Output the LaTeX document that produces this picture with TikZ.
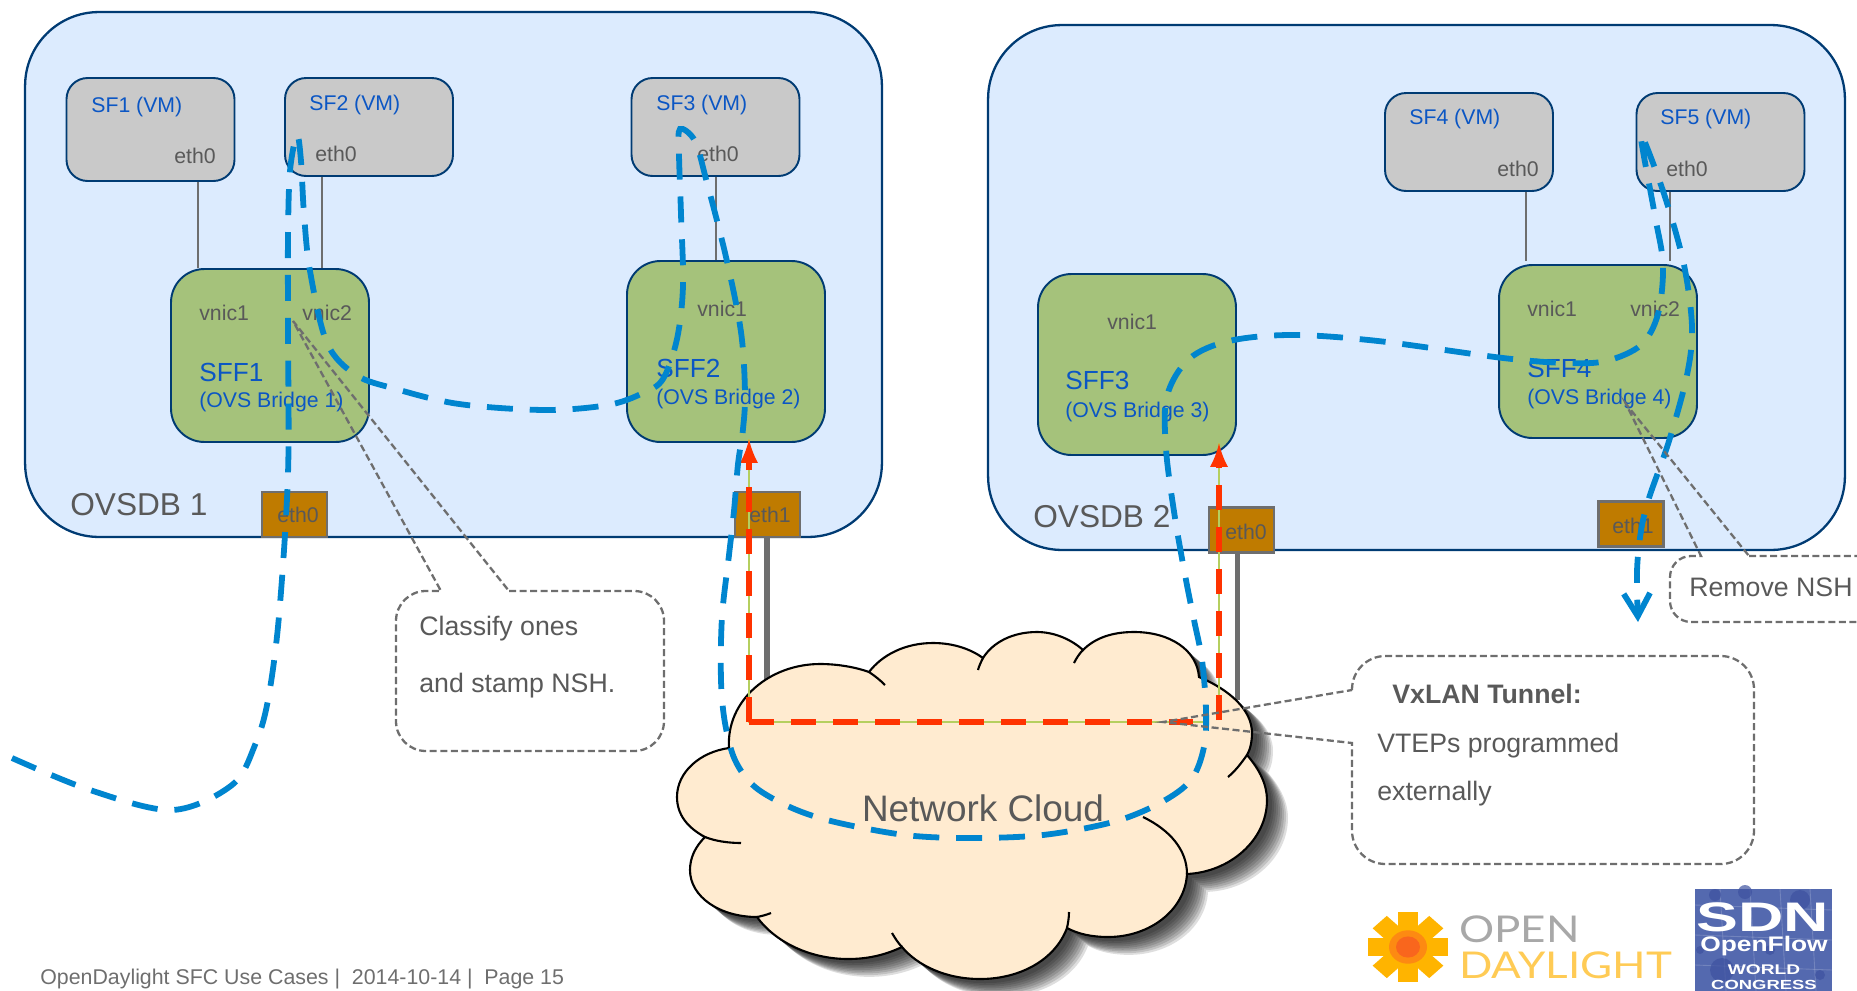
\documentclass[tikz,border=0pt]{standalone}
\usepackage{fontspec}
\usepackage{graphicx}
\setmainfont{Liberation Sans}
\newfontfamily\logofont{Lato}
\usetikzlibrary{arrows.meta}
\definecolor{fondbleu}{HTML}{DCEBFE}
\definecolor{bord}{HTML}{003B73}
\definecolor{gris}{HTML}{C9C9C9}
\definecolor{vert}{HTML}{A5C27B}
\definecolor{brun}{HTML}{BF7B00}
\definecolor{trait}{HTML}{6E6E6E}
\definecolor{texte}{HTML}{595959}
\definecolor{bleutexte}{HTML}{0B56C4}
\definecolor{bleuroute}{HTML}{0085CF}
\definecolor{rouge}{HTML}{FF3300}
\definecolor{olive}{HTML}{B5CF5F}
\definecolor{sable}{HTML}{FFEBD0}
\definecolor{etoile}{HTML}{FFB400}
\definecolor{etoilemid}{HTML}{FD8A12}
\definecolor{etoilecoeur}{HTML}{F9661D}
\definecolor{jour}{HTML}{FFCB55}
\definecolor{ouvert}{HTML}{A8A8A8}
\definecolor{sdnfond}{HTML}{5469AF}
\definecolor{sdnnoeud}{HTML}{3E52A0}
\begin{document}
\begin{tikzpicture}[x=0.02cm,y=-0.02cm]
	\tikzstyle{domaine}=[draw=bord,fill=fondbleu,line width=1.3pt,rounded corners=42pt,minimum width=17.14cm,minimum height=10.5cm,inner sep=0]
	\tikzstyle{fonction}=[draw=bord,fill=gris,line width=1.1pt,rounded corners=12pt,minimum width=3.36cm,inner sep=0]
	\tikzstyle{pont}=[draw=bord,fill=vert,line width=1.1pt,rounded corners=19pt,minimum width=3.96cm,inner sep=0]
	\tikzstyle{port}=[draw=trait,fill=brun,line width=1.4pt,minimum width=1.3cm,minimum height=0.9cm,inner sep=0]
	\tikzstyle{titre}=[anchor=west,inner sep=0,text=texte,font=\fontsize{18}{20}\selectfont]
	\tikzstyle{petit}=[anchor=west,inner sep=0,text=texte,font=\fontsize{12.1}{14}\selectfont]
	\tikzstyle{nomsf}=[anchor=west,inner sep=0,text=bleutexte,font=\fontsize{12.1}{14}\selectfont]
	\tikzstyle{nomsff}=[anchor=west,inner sep=0,text=bleutexte,font=\fontsize{14.9}{16}\selectfont]
	\tikzstyle{note}=[anchor=west,inner sep=0,text=texte,font=\fontsize{15.2}{17}\selectfont]
	\tikzstyle{lien}=[draw=trait,line width=1.5pt]
	\tikzstyle{cable}=[draw=trait,line width=3.2pt]
	\tikzstyle{bulle}=[draw=trait,line width=1.3pt,dash pattern=on 4pt off 2pt]
	\tikzstyle{tunnel}=[draw=rouge,line width=3.6pt,dash pattern=on 14.2pt off 9.7pt,>=latex]
	\tikzstyle{fil}=[draw=olive,line width=0.7pt]
	\tikzstyle{route}=[draw=bleuroute,line width=3.3pt,dash pattern=on 14.8pt off 9.6pt,>={Straight Barb[length=13pt,width=15pt]}]
	\tikzstyle{contour}=[draw=black,line width=1.2pt]

	\def\ContourNuage{(729,748) .. controls (726,700) and (770,664) .. (820,664) .. controls (840,664) and (858,668) .. (869,672)
		.. controls (882,655) and (905,643) .. (933,643) .. controls (955,643) and (972,650) .. (983,658)
		.. controls (993,642) and (1013,632) .. (1037,632) .. controls (1055,632) and (1072,640) .. (1083,650)
		.. controls (1095,638) and (1112,632) .. (1134,632) .. controls (1170,632) and (1197,650) .. (1199,677)
		.. controls (1230,690) and (1252,710) .. (1252,733) .. controls (1252,742) and (1250,750) .. (1247,755)
		.. controls (1260,770) and (1267,785) .. (1267,800) .. controls (1267,840) and (1230,872) .. (1187,874)
		.. controls (1185,910) and (1150,937) .. (1108,937) .. controls (1092,937) and (1078,934) .. (1067,928)
		.. controls (1055,960) and (1020,979) .. (980,979) .. controls (945,979) and (917,965) .. (902,947)
		.. controls (885,955) and (868,959) .. (848,959) .. controls (810,959) and (775,942) .. (757,917)
		.. controls (720,917) and (690,897) .. (690,870) .. controls (690,858) and (695,847) .. (705,837)
		.. controls (688,828) and (677,815) .. (677,797) .. controls (677,772) and (700,752) .. (729,748) -- cycle}

	\clip (0,0) rectangle (1857,991);

	\node[domaine] (OVSa) at (453.5,274.5) {};
	\node[domaine] (OVSb) at (1416.5,287.5) {};

	\node[fonction,minimum height=2.06cm] (SFa) at (150.5,129.5) {};
	\node[fonction,minimum height=1.96cm] (SFb) at (369,127) {};
	\node[fonction,minimum height=1.96cm] (SFc) at (715.5,127) {};
	\node[fonction,minimum height=1.96cm] (SFd) at (1469,142) {};
	\node[fonction,minimum height=1.96cm] (SFe) at (1720.5,142) {};

	\node[pont,minimum height=3.46cm] (SFFa) at (270,355.5) {};
	\node[pont,minimum height=3.62cm] (SFFb) at (726,351.5) {};
	\node[pont,minimum height=3.62cm] (SFFc) at (1137,364.5) {};
	\node[pont,minimum height=3.46cm] (SFFd) at (1598,351.5) {};

	\coordinate (xa) at (198,0);
	\coordinate (xb) at (322,0);
	\coordinate (xc) at (716,0);
	\coordinate (xd) at (1526,0);
	\coordinate (xe) at (1670,0);
	\draw[lien] (SFa.south -| xa) -- (SFFa.north -| xa);
	\draw[lien] (SFb.south -| xb) -- (SFFa.north -| xb);
	\draw[lien] (SFc.south -| xc) -- (SFFb.north -| xc);
	\draw[lien] (SFd.south -| xd) -- ([yshift=2pt]SFFd.north -| xd);
	\draw[lien] (SFe.south -| xe) -- ([yshift=2pt]SFFd.north -| xe);

	\node[port] (ETHa) at (294.5,514.5) {};
	\node[port] (ETHb) at (767.5,514.5) {};
	\node[port] (ETHc) at (1241.5,530) {};
	\node[port] (ETHd) at (1631,524) {};

	% cloud
	\coordinate (arriveeb) at (767,690);
	\coordinate (arriveec) at (1237.5,700);
	\draw[cable] (ETHb.south -| arriveeb) -- (arriveeb);
	\draw[cable] (ETHc.south -| arriveec) -- (arriveec);
	\foreach \d in {5,7,9,11,13,15,17,19,21}
		\fill[black,opacity=0.13,shift={(\d,\d*0.85)}] \ContourNuage;
	\path[fill=sable,contour] \ContourNuage;
	\draw[contour] (869,672) .. controls (875,676) and (880,680) .. (885,685);
	\draw[contour] (983,658) .. controls (981,662) and (979,666) .. (978,670);
	\draw[contour] (1074,663) .. controls (1077,657) and (1080,653) .. (1083,650);
	\draw[contour] (1247,755) .. controls (1240,765) and (1235,771) .. (1228,777);
	\draw[contour] (1143,817) .. controls (1170,830) and (1187,850) .. (1187,874);
	\draw[contour] (1069,912) .. controls (1069,918) and (1068,923) .. (1067,928);
	\draw[contour] (892,933) .. controls (895,938) and (898,943) .. (902,947);
	\draw[contour] (771,913) .. controls (766,915) and (762,916) .. (757,917);
	\draw[contour] (741,843) .. controls (728,843) and (715,841) .. (705,837);
	\node[anchor=center,inner sep=0,text=texte,font=\fontsize{21}{23}\selectfont] (NUAGE) at (983,808) {Network Cloud};

	% texts
	\node[titre] (OVSDBa) at (70,505) {OVSDB 1};
	\node[titre] (OVSDBb) at (1033,517) {OVSDB 2};
	\node[nomsf] (VMa) at (91,107) {SF1 (VM)};
	\node[nomsf] (VMb) at (309,105) {SF2 (VM)};
	\node[nomsf] (VMc) at (656,105) {SF3 (VM)};
	\node[nomsf] (VMd) at (1409,119) {SF4 (VM)};
	\node[nomsf] (VMe) at (1660,119) {SF5 (VM)};
	\node[petit] (EZa) at (174,156) {eth0};
	\node[petit] (EZb) at (315,154) {eth0};
	\node[petit] (EZc) at (697,154) {eth0};
	\node[petit] (EZd) at (1497,169) {eth0};
	\node[petit] (EZe) at (1666,169) {eth0};
	\node[petit] (VNa) at (199,313) {vnic1};
	\node[petit] (VNb) at (302,313) {vnic2};
	\node[petit] (VNc) at (697,309) {vnic1};
	\node[petit] (VNd) at (1107,322) {vnic1};
	\node[petit] (VNe) at (1527,309) {vnic1};
	\node[petit] (VNf) at (1630,309) {vnic2};
	\node[nomsff] (NOMa) at (199,372) {SFF1};
	\node[nomsf] (BRa) at (199,402) {(OVS Bridge 1)};
	\node[nomsff] (NOMb) at (656,368) {SFF2};
	\node[nomsf] (BRb) at (656,399) {(OVS Bridge 2)};
	\node[nomsff] (NOMc) at (1065,380) {SFF3};
	\node[nomsf] (BRc) at (1065,412) {(OVS Bridge 3)};
	\node[nomsff] (NOMd) at (1527,368) {SFF4};
	\node[nomsf] (BRd) at (1527,399) {(OVS Bridge 4)};
	\node[petit] (PTa) at (277,515) {eth0};
	\node[petit] (PTb) at (749,515) {eth1};
	\node[petit] (PTc) at (1225,532) {eth0};
	\node[petit] (PTd) at (1612,526) {eth1};

	% tunnel
	\coordinate (coin) at (749,722);
	\coordinate (tunnelfin) at (1193,722);
	\coordinate (filfin) at (1208,722);
	\coordinate (pied) at (1219,720);
	\coordinate (hautb) at (749,439);
	\coordinate (hautc) at (1219,443);
	\draw[fil] (hautb) -- (coin) -- (filfin);
	\draw[fil] (pied) -- (hautc);
	\draw[tunnel,->] (coin) -- (hautb);
	\draw[tunnel] (coin) -- (tunnelfin);
	\draw[tunnel,->] (pied) -- (hautc);

	% route of the packets
	\coordinate (depart) at (12,758);
	\coordinate (arrivee) at (1638,622);
	\draw[route,->] plot[smooth,tension=0.55] coordinates {(depart) (90,790) (172,810) (232,785) (255,745) (268,700) (279,616) (288,474) (288,332) (288,237) (290,171) (297,135)
		(301,161) (304,214) (310,271) (327,343) (356,375) (396,389) (459,404) (545,410) (608,405) (643,393) (663,379)
		(677,339) (683,286) (681,214) (679,154) (680,129) (695,141) (706,179) (726,257) (741,332) (745,393) (743,429)
		(738,464) (734,511) (729,555) (722,617) (721,680) (725,723) (735,760) (755,787) (792,808) (835,822) (905,835)
		(970,838) (1043,835) (1113,822) (1160,803) (1191,780) (1204,747) (1206,710) (1202,660) (1194,620) (1186,580)
		(1175,518) (1166,449) (1167,396) (1189,359) (1229,341) (1292,335) (1378,341) (1503,358) (1566,363) (1606,361)
		(1641,345) (1658,314) (1663,265) (1655,216) (1641,139) (1646,145) (1666,200) (1684,265) (1692,327) (1687,375)
		(1669,441) (1649,498) (1641,531) (1637,571) (arrivee)};

	% callouts
	\draw[bulle] (509,591) [rounded corners=17pt] -- (664,591) -- (664,751) -- (396,751) -- (396,591) [sharp corners] -- (441,591) -- (293,321) -- cycle;
	\node[note] (CLASSa) at (419,629) {Classify ones};
	\node[note] (CLASSb) at (419,686) {and stamp NSH.};
	\draw[bulle] (1749,556) [rounded corners=12pt] -- (1900,556) -- (1900,622) -- (1670,622) -- (1670,556) [sharp corners] -- (1701,556) -- (1626,404) -- cycle;
	\node[note] (ENLEVE) at (1689,587) {Remove NSH};
	\draw[bulle] (1352,690) [rounded corners=19pt] -- (1352,656) -- (1754,656) -- (1754,864) -- (1352,864) [sharp corners] -- (1352,743) -- (1163,722) -- cycle;
	\node[note,font=\fontsize{15.2}{17}\selectfont\bfseries] (VXa) at (1392,694) {VxLAN Tunnel:};
	\node[note] (VXb) at (1377,745.5) {VTEPs programmed};
	\node[note] (VXc) at (1377,793.5) {externally};

	% footer and logos
	\node[anchor=west,inner sep=0,text=trait,font=\fontsize{12.15}{14}\selectfont] (BAS) at (40,979) {OpenDaylight SFC Use Cases |\ \ 2014-10-14 |\ \ Page 15};

	\begin{scope}[shift={(1408,947)},yscale=0.88]
		\foreach \a in {0,45,90,135}
			\fill[color=etoile,rotate=\a] (-40,-10) rectangle (40,10);
		\fill[color=etoilemid] (0,0) circle (19);
		\fill[color=etoilecoeur] (0,0) circle (12);
	\end{scope}
	\node[anchor=west,inner sep=0,text=ouvert,font=\fontsize{21}{23}\logofont] (OPEN) at (1459,929) {\scalebox{1.19}[1]{OPEN}};
	\node[anchor=west,inner sep=0,text=jour,font=\fontsize{21}{23}\logofont] (DAY) at (1459,965) {\scalebox{1.19}[1]{DAYLIGHT}};

	\fill[color=sdnfond] (1695,889) rectangle (1832,991);
	\foreach \x in {1720,1750,1780,1810}
		\draw[color=white,opacity=0.18,line width=0.5pt] (\x,889) -- (\x+6,991);
	\foreach \y in {905,935,965}
		\draw[color=white,opacity=0.18,line width=0.5pt] (1695,\y) -- (1832,\y+5);
	\foreach \x/\y/\r in {1715/895/6,1745/892/7,1800/900/10,1722/970/12,1820/975/5,1770/950/5,1700/950/4}
		\fill[color=sdnnoeud,opacity=0.7] (\x,\y) circle (\r);
	\node[inner sep=0,text=white,font=\fontsize{23.5}{24}\selectfont\bfseries] (SDN) at (1762.5,917.5) {\scalebox{1.52}[1]{SDN}};
	\node[inner sep=0,text=white,font=\fontsize{12}{14}\selectfont\bfseries] (FLOW) at (1764,946) {\scalebox{1.25}[1]{OpenFlow}};
	\node[inner sep=0,text=white,font=\fontsize{8}{9}\selectfont\bfseries] (WORLD) at (1764,970) {\scalebox{1.36}[1]{WORLD}};
	\node[inner sep=0,text=white,font=\fontsize{7.5}{9}\selectfont\bfseries] (CONG) at (1764,984.5) {\scalebox{1.4}[1]{CONGRESS}};
\end{tikzpicture}
\end{document}
